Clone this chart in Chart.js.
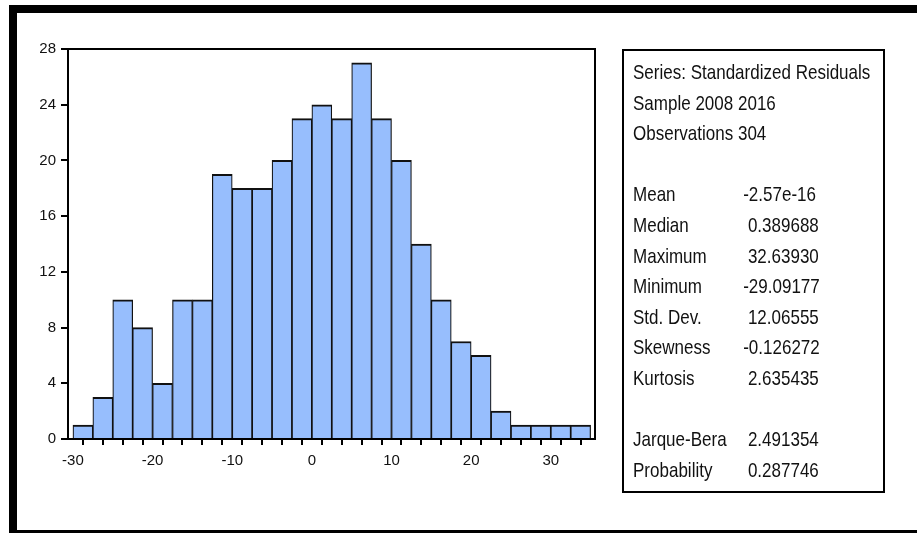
<!DOCTYPE html>
<html>
<head>
<meta charset="utf-8">
<script src="https://cdn.jsdelivr.net/npm/chart.js@4.4.1/dist/chart.umd.min.js"></script>
<style>
  html, body { margin: 0; padding: 0; background: #fff; }
  #wrap { position: relative; width: 917px; height: 533px; overflow: hidden; }
  #chart { position: absolute; left: 0; top: 0; }
  .bar { position: absolute; background: #000; }
  #stats {
    position: absolute; left: 622px; top: 49px; width: 259px; height: 440px;
    border: 2px solid #000; box-sizing: content-box;
    font-family: "Liberation Sans", Arial, sans-serif;
    font-size: 21px; color: #111;
  }
  #stats .row {
    position: absolute; left: 9px; height: 30px; line-height: 30px; white-space: pre;
    transform: scaleX(0.81); transform-origin: 0 50%;
  }
  #stats .val { position: absolute; left: 136px; top: 0; }
</style>
</head>
<body>
<div id="wrap">
  <canvas id="chart" width="917" height="533"></canvas>
  <div class="bar" style="left:9px;top:5px;width:908px;height:8px"></div>
  <div class="bar" style="left:9px;top:5px;width:8px;height:528px"></div>
  <div class="bar" style="left:9px;top:530px;width:908px;height:3px"></div>
  <div id="stats"></div>
</div>
<script>
// histogram bins (centre of each 2.5 wide bin) and counts
const binCenters = [-28.75, -26.25, -23.75, -21.25, -18.75, -16.25, -13.75, -11.25, -8.75, -6.25,
  -3.75, -1.25, 1.25, 3.75, 6.25, 8.75, 11.25, 13.75, 16.25, 18.75, 21.25, 23.75, 26.25, 28.75, 31.25, 33.75];
const counts = [1, 3, 10, 8, 4, 10, 10, 19, 18, 18, 20, 23, 24, 23, 27, 23, 20, 14, 10, 7, 6, 2, 1, 1, 1, 1];
const binEdges = [-30, -27.5, -25, -22.5, -20, -17.5, -15, -12.5, -10, -7.5, -5, -2.5, 0, 2.5, 5, 7.5,
  10, 12.5, 15, 17.5, 20, 22.5, 25, 27.5, 30, 32.5, 35];
const xTickLabels = ['-30', '-20', '-10', '0', '10', '20', '30'];
const yTickValues = [0, 4, 8, 12, 16, 20, 24, 28];

// summary statistics panel
const headerLines = ['Series: Standardized Residuals', 'Sample 2008 2016', 'Observations 304'];
const statNames = ['Mean', 'Median', 'Maximum', 'Minimum', 'Std. Dev.', 'Skewness', 'Kurtosis'];
const statValues = ['-2.57e-16', ' 0.389688', ' 32.63930', '-29.09177', ' 12.06555', '-0.126272', ' 2.635435'];
const testNames = ['Jarque-Bera', 'Probability'];
const testValues = [' 2.491354', ' 0.287746'];

const tickFont = { family: '"Liberation Sans", Arial, sans-serif', size: 15 };

const frame = {
  id: 'frame',
  afterDraw(chart) {
    const a = chart.chartArea, c = chart.ctx;
    c.save();
    c.strokeStyle = '#000';
    c.lineWidth = 2;
    c.beginPath();
    c.moveTo(a.left, a.top);
    c.lineTo(a.right, a.top);
    c.lineTo(a.right, a.bottom);
    c.stroke();
    c.restore();
  }
};

new Chart(document.getElementById('chart'), {
  type: 'bar',
  data: {
    datasets: [{
      data: binCenters.map((x, i) => ({ x: x, y: counts[i] })),
      backgroundColor: 'rgb(151,190,253)',
      borderColor: '#111',
      borderWidth: { top: 2, left: 1.2, right: 1.2, bottom: 0 },
      barPercentage: 1,
      categoryPercentage: 1
    }]
  },
  options: {
    responsive: false,
    animation: false,
    layout: { padding: { left: 0, top: 49, right: 322, bottom: 54 } },
    plugins: { legend: { display: false }, tooltip: { enabled: false } },
    scales: {
      x: {
        type: 'linear',
        min: -30.62,
        max: 35.55,
        offset: false,
        afterBuildTicks: s => { s.ticks = binEdges.map(v => ({ value: v })); },
        afterFit: s => { s.height = 40; },
        ticks: {
          autoSkip: false, maxRotation: 0, color: '#111', font: tickFont, padding: 7,
          callback: v => xTickLabels.includes(String(v)) ? String(v) : ''
        },
        grid: { drawOnChartArea: false, drawTicks: true, tickLength: 6, color: '#000', lineWidth: 2 },
        border: { display: true, color: '#000', width: 2 }
      },
      y: {
        min: 0,
        max: 28,
        afterBuildTicks: s => { s.ticks = yTickValues.map(v => ({ value: v })); },
        afterFit: s => { s.width = 68; },
        ticks: { color: '#111', font: tickFont, padding: 5 },
        grid: { drawOnChartArea: false, drawTicks: true, tickLength: 7, color: '#000', lineWidth: 2 },
        border: { display: true, color: '#000', width: 2 }
      }
    }
  },
  plugins: [frame]
});

// stats text
const box = document.getElementById('stats');
function addRow(top, name, value) {
  const r = document.createElement('div');
  r.className = 'row';
  r.style.top = top + 'px';
  r.textContent = name;
  if (value !== undefined) {
    const v = document.createElement('span');
    v.className = 'val';
    v.textContent = value;
    r.appendChild(v);
  }
  box.appendChild(r);
}
const step = 30.6;
headerLines.forEach((t, i) => addRow(6 + i * step, t));
statNames.forEach((t, i) => addRow(6 + (i + 4) * step, t, statValues[i]));
testNames.forEach((t, i) => addRow(6 + (i + 12) * step, t, testValues[i]));
</script>
</body>
</html>
